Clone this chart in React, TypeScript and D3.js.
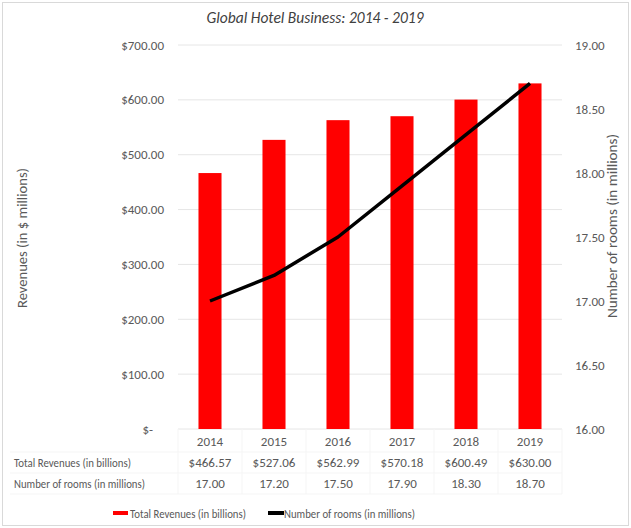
import React from "react";
import * as d3 from "d3";

const years = ["2014", "2015", "2016", "2017", "2018", "2019"];
const revenues = [466.57, 527.06, 562.99, 570.18, 600.49, 630.0];
const rooms = [17.0, 17.2, 17.5, 17.9, 18.3, 18.7];
const leftTicks = [0, 100, 200, 300, 400, 500, 600, 700];
const rightTicks = [16, 16.5, 17, 17.5, 18, 18.5, 19];
const seriesNames = ["Total Revenues (in billions)", "Number of rooms (in millions)"];
const title = "Global Hotel Business: 2014 - 2019";

const W = 631, H = 528;
const FONT = "Carlito, Lato, 'Open Sans', sans-serif";
const TXT = "#595959";

export default function App() {
  const x = d3.scaleBand<string>().domain(years).range([178, 562]).paddingInner(0.64).paddingOuter(0.32);
  const yL = d3.scaleLinear().domain([0, 700]).range([429, 45]);
  const yR = d3.scaleLinear().domain([16, 19]).range([429, 45]);
  const cx = (y: string) => (x(y) as number) + x.bandwidth() / 2;
  const line = d3.line<number>().x((_, i) => cx(years[i])).y(d => yR(d));
  const fmtMoney = (v: number) => (v === 0 ? "$-" : "$" + d3.format(",.2f")(v));
  const colStep = 64;

  return (
    <svg width={W} height={H} style={{ position: "absolute", left: 0, top: 0, background: "#fff" }} fontFamily={FONT}>
      <rect x={2.5} y={2.5} width={W - 5} height={H - 5} fill="#fff" stroke="#d9d9d9" />
      <text x={315} y={23} textAnchor="middle" fontSize={15.5} fontStyle="italic" fill="#404040">{title}</text>
      {leftTicks.map(t => (
        <line key={"g" + t} x1={178} x2={562} y1={yL(t)} y2={yL(t)} stroke="#e6e6e6" strokeWidth={1} />
      ))}
      {leftTicks.map(t => (
        <text key={"l" + t} x={t === 0 ? 153 : 164} y={yL(t) + 4.5} textAnchor="end" fontSize={13} fill={TXT}>{fmtMoney(t)}</text>
      ))}
      {rightTicks.map(t => (
        <text key={"r" + t} x={575} y={yR(t) + 4.5} textAnchor="start" fontSize={13} fill={TXT}>{t.toFixed(2)}</text>
      ))}
      <text transform={`translate(27,238) rotate(-90)`} textAnchor="middle" fontSize={13.5} fill={TXT} textLength={140} lengthAdjust="spacingAndGlyphs">Revenues (in $ millions)</text>
      <text transform={`translate(617,226) rotate(-90)`} textAnchor="middle" fontSize={14} fill={TXT} textLength={184} lengthAdjust="spacingAndGlyphs">Number of rooms (in millions)</text>
      {revenues.map((v, i) => (
        <rect key={"b" + i} x={x(years[i])} y={yL(v)} width={x.bandwidth()} height={yL(0) - yL(v)} fill="#ff0000" />
      ))}
      <path d={line(rooms) || ""} fill="none" stroke="#000" strokeWidth={3.5} strokeLinejoin="round" />
      {/* data table */}
      {[0, 1, 2, 3, 4, 5, 6].map(i => (
        <line key={"tv" + i} x1={178 + i * colStep} x2={178 + i * colStep} y1={429} y2={494} stroke="#f5f5f5" />
      ))}
      {[452, 473, 494].map(yy => (
        <line key={"th" + yy} x1={10} x2={562} y1={yy} y2={yy} stroke="#f5f5f5" />
      ))}
      {years.map(y => (
        <text key={"y" + y} x={cx(y)} y={446} textAnchor="middle" fontSize={13} fill={TXT}>{y}</text>
      ))}
      <text x={14} y={467} fontSize={13} fill={TXT} textLength={117} lengthAdjust="spacingAndGlyphs">{seriesNames[0]}</text>
      <text x={14} y={488} fontSize={13} fill={TXT} textLength={131} lengthAdjust="spacingAndGlyphs">{seriesNames[1]}</text>
      {revenues.map((v, i) => (
        <text key={"tr" + i} x={cx(years[i])} y={467} textAnchor="middle" fontSize={13} fill={TXT}>{fmtMoney(v)}</text>
      ))}
      {rooms.map((v, i) => (
        <text key={"tn" + i} x={cx(years[i])} y={488} textAnchor="middle" fontSize={13} fill={TXT}>{v.toFixed(2)}</text>
      ))}
      {/* legend */}
      <rect x={113} y={511} width={15} height={4} fill="#ff0000" />
      <text x={130} y={518} fontSize={13} fill={TXT} textLength={116} lengthAdjust="spacingAndGlyphs">{seriesNames[0]}</text>
      <rect x={268} y={511} width={16} height={4} fill="#000" />
      <text x={284} y={518} fontSize={13} fill={TXT} textLength={131} lengthAdjust="spacingAndGlyphs">{seriesNames[1]}</text>
    </svg>
  );
}
